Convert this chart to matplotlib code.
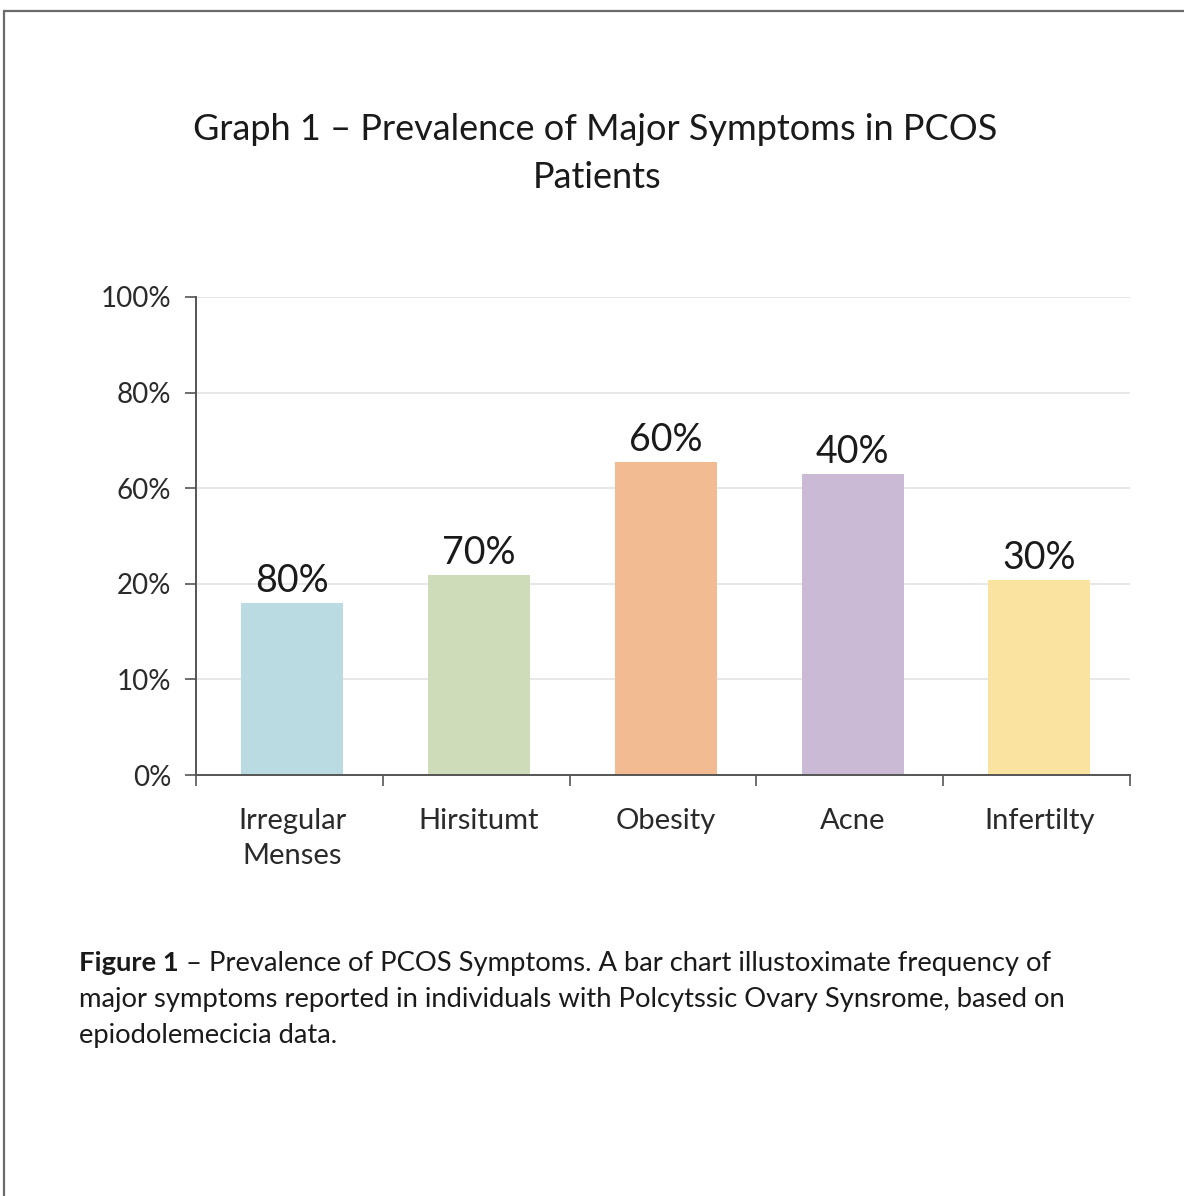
import numpy as np
import matplotlib
matplotlib.use("Agg")
import matplotlib.pyplot as plt
from matplotlib.patches import Rectangle

plt.rcParams['font.family'] = ['Lato', 'DejaVu Sans']

# Data
categories = ["Irregular\nMenses", "Hirsitumt", "Obesity", "Acne", "Infertilty"]
values = [18.0, 23.5, 65.5, 63.0, 21.5]          # bar heights (%)
bar_labels = ["80%", "70%", "60%", "40%", "30%"]
colors = ["#badbe1", "#cedcb9", "#f3bb91", "#cbbad6", "#fae3a1"]
y_ticks = [0, 10, 20, 60, 80, 100]
y_tick_labels = ["0%", "10%", "20%", "60%", "80%", "100%"]

# y axis: tick levels evenly spaced, linear between them
_pos = np.arange(len(y_ticks), dtype=float)
def fwd(v):
    return np.interp(v, y_ticks, _pos)
def inv(p):
    return np.interp(p, _pos, y_ticks)

W, H = 1184, 1196
fig = plt.figure(figsize=(W / 100, H / 100), dpi=100)
fig.patch.set_facecolor("white")

# page frame
fig.patches.append(Rectangle((4 / W, -0.05), 1.2, 1 - 11 / H + 0.05,
                             transform=fig.transFigure, fill=False,
                             edgecolor="#6b6b6b", linewidth=1.6))

ax = fig.add_axes([196 / W, 1 - 775 / H, (1130 - 196) / W, (775 - 297) / H])
ax.set_yscale("function", functions=(fwd, inv))
ax.set_ylim(0, 100)
ax.set_xlim(-0.5, len(categories) - 0.5)

x = np.arange(len(categories))
bars = ax.bar(x + 0.015, values, width=0.545, color=colors, zorder=2)

for b, lab in zip(bars, bar_labels):
    ax.annotate(lab, (b.get_x() + b.get_width() / 2, b.get_height()),
                xytext=(0, 3), textcoords="offset points",
                ha="center", va="bottom", fontsize=27, color="#1a1a1a")

ax.set_yticks(y_ticks)
ax.set_yticklabels(y_tick_labels)
ax.yaxis.grid(True, color="#e3e3e3", linewidth=1.2, zorder=0)
ax.set_axisbelow(True)

# category labels and boundary ticks
ax.set_xticks(np.arange(-0.5, len(categories) + 0.5, 1.0))
ax.set_xticklabels([])
ax.set_xticks(x + 0.015, minor=True)
ax.set_xticklabels(categories, minor=True, fontsize=21, color="#2a2a2a",
                   linespacing=1.4)
ax.tick_params(axis="x", which="minor", length=0, pad=24)
ax.tick_params(axis="x", which="major", length=8, width=1.2, color="#555555",
               direction="out")
ax.tick_params(axis="y", length=8, width=1.2, color="#555555", pad=10,
               labelsize=20, labelcolor="#2a2a2a")

for side in ("top", "right"):
    ax.spines[side].set_visible(False)
for side in ("left", "bottom"):
    ax.spines[side].set_color("#555555")
    ax.spines[side].set_linewidth(1.4)

# title
fig.text(595 / W, 1 - 130 / H, "Graph 1 \u2013 Prevalence of Major Symptoms in PCOS",
         ha="center", va="center", fontsize=26, color="#1a1a1a")
fig.text(597 / W, 1 - 178 / H, "Patients",
         ha="center", va="center", fontsize=26, color="#1a1a1a")

# caption with bold lead-in
cap_x = 79 / W
y1 = 1 - 963 / H
lead = fig.text(cap_x, y1, "Figure 1", ha="left", va="center",
                fontsize=19.7, fontweight="bold", color="#1a1a1a")
fig.canvas.draw()
bb = lead.get_window_extent(renderer=fig.canvas.get_renderer())
fig.text(bb.x1 / W, y1, " \u2013 Prevalence of PCOS Symptoms. A bar chart illustoximate frequency of",
         ha="left", va="center", fontsize=19.7, color="#1a1a1a")
fig.text(cap_x, 1 - 999 / H,
         "major symptoms reported in individuals with Polcytssic Ovary Synsrome, based on",
         ha="left", va="center", fontsize=19.7, color="#1a1a1a")
fig.text(cap_x, 1 - 1035 / H, "epiodolemecicia data.",
         ha="left", va="center", fontsize=19.7, color="#1a1a1a")

fig.savefig("out.png", dpi=100, facecolor="white")
